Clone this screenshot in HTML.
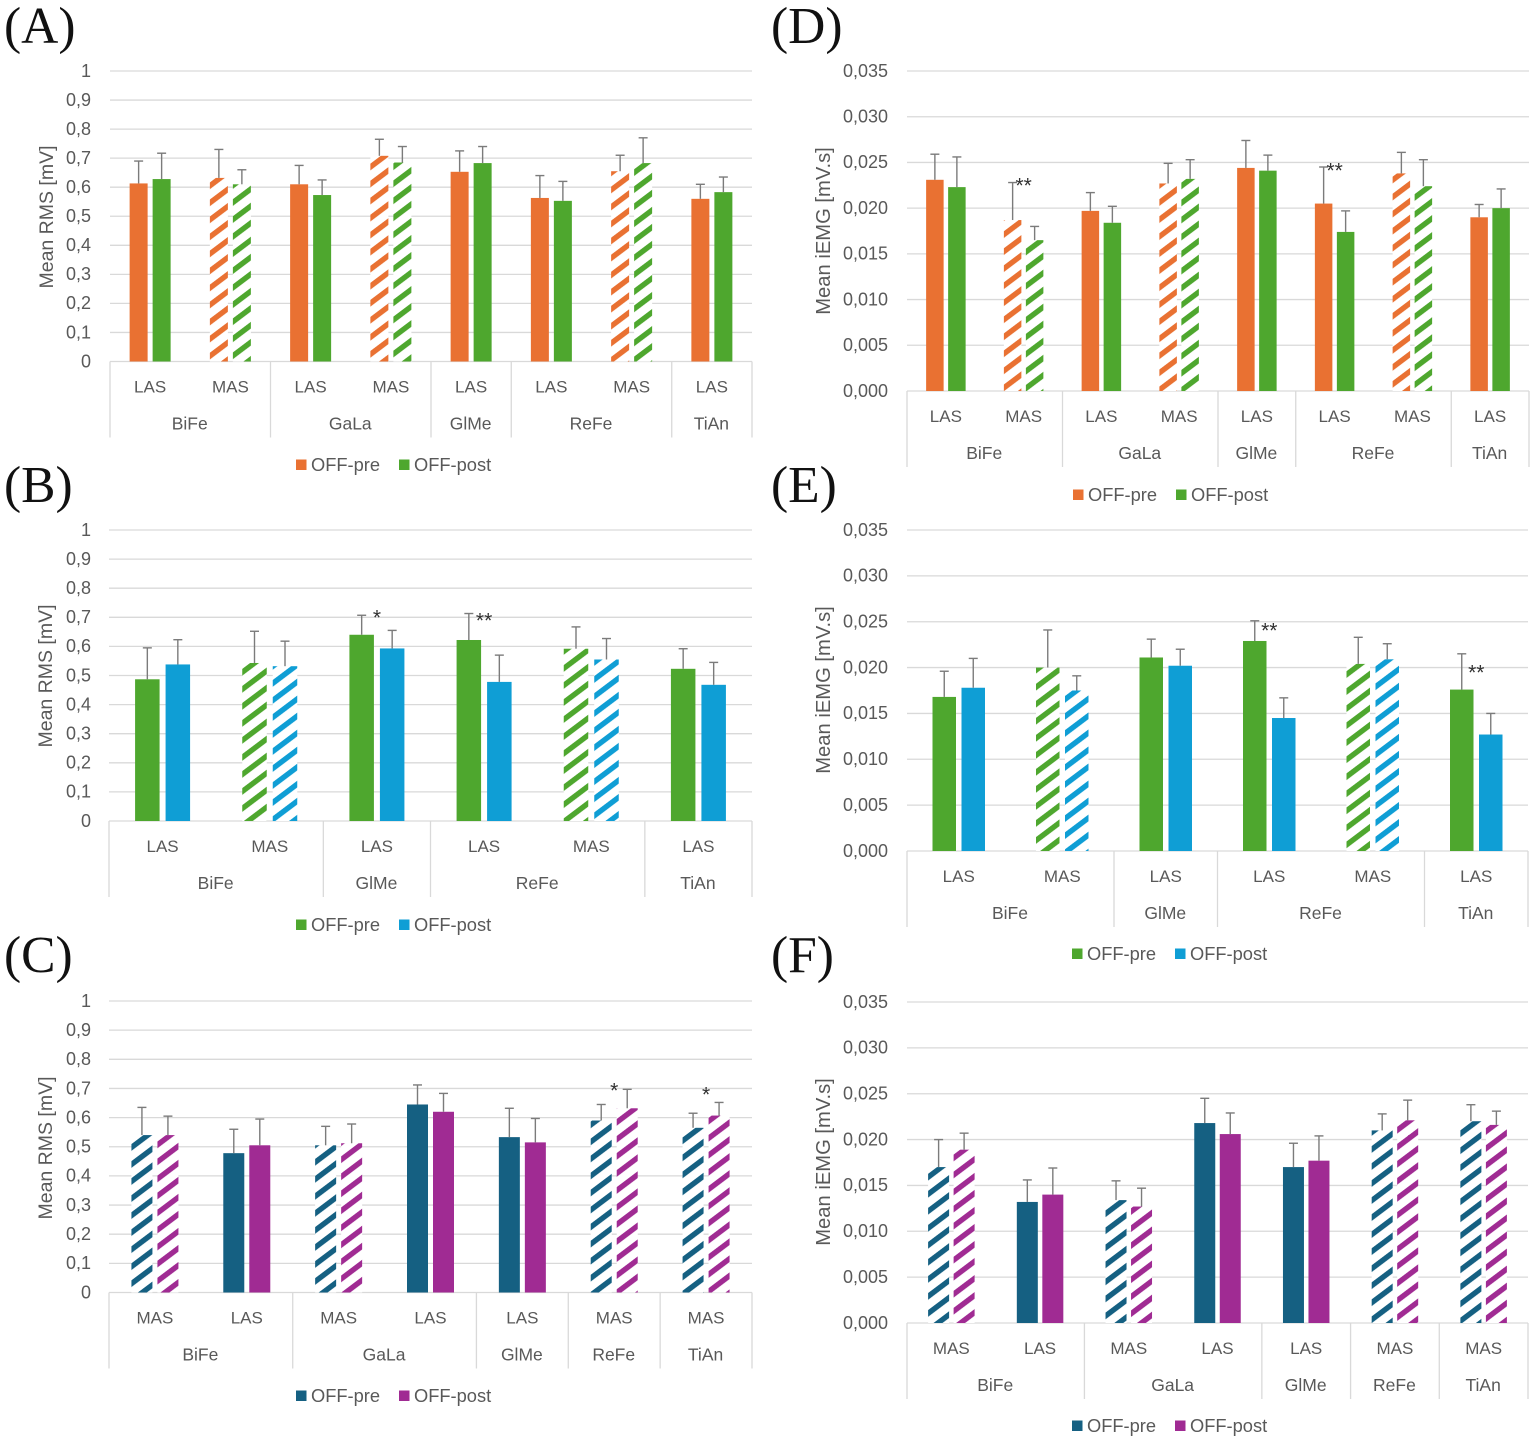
<!DOCTYPE html>
<html lang="en">
<head>
<meta charset="utf-8">
<title>Mean RMS and iEMG charts</title>
<style>
html,body{margin:0;padding:0;background:#fff;width:1535px;height:1441px;overflow:hidden}
svg{display:block}
text{font-family:"Liberation Sans",sans-serif;fill:#595959}
.panel-letter{font-family:"Liberation Serif",serif;fill:#111;font-size:51.5px}
</style>
</head>
<body>
<svg id="figure" xmlns="http://www.w3.org/2000/svg" width="1535" height="1441" viewBox="0 0 1535 1441">
<defs id="defs"></defs>
<rect width="1535" height="1441" fill="#fff"></rect>
</svg>
<script>
// Panel A
var aCategories = ['LAS','MAS','LAS','MAS','LAS','LAS','MAS','LAS'];
var aGroups = ['BiFe','GaLa','GlMe','ReFe','TiAn'];
var aGroupSizes = [2,2,1,2,1];
var aPre = [0.613,0.632,0.61,0.708,0.653,0.563,0.655,0.56];
var aPost = [0.628,0.61,0.573,0.685,0.683,0.553,0.683,0.583];
var aPreTop = [0.69,0.73,0.675,0.765,0.725,0.64,0.71,0.61];
var aPostTop = [0.717,0.66,0.625,0.74,0.74,0.62,0.77,0.635];
var aStarCats = [];
var aStarLevels = [];
var aStarLabels = [];
// Panel B
var bCategories = ['LAS','MAS','LAS','LAS','MAS','LAS'];
var bGroups = ['BiFe','GlMe','ReFe','TiAn'];
var bGroupSizes = [2,1,2,1];
var bPre = [0.487,0.543,0.64,0.622,0.592,0.523];
var bPost = [0.538,0.532,0.593,0.478,0.555,0.468];
var bPreTop = [0.595,0.652,0.707,0.713,0.667,0.592];
var bPostTop = [0.623,0.618,0.655,0.57,0.627,0.545];
var bStarCats = [2,3];
var bStarLevels = [0.711,0.70];
var bStarLabels = ['*','**'];
// Panel C
var cCategories = ['MAS','LAS','MAS','LAS','LAS','MAS','MAS'];
var cGroups = ['BiFe','GaLa','GlMe','ReFe','TiAn'];
var cGroupSizes = [2,2,1,1,1];
var cPre = [0.54,0.478,0.505,0.645,0.533,0.59,0.565];
var cPost = [0.54,0.505,0.512,0.62,0.515,0.632,0.607];
var cPreTop = [0.635,0.56,0.57,0.712,0.632,0.645,0.615];
var cPostTop = [0.605,0.595,0.578,0.683,0.597,0.697,0.652];
var cStarCats = [5,6];
var cStarLevels = [0.704,0.69];
var cStarLabels = ['*','*'];
// Panel D
var dCategories = ['LAS','MAS','LAS','MAS','LAS','LAS','MAS','LAS'];
var dGroups = ['BiFe','GaLa','GlMe','ReFe','TiAn'];
var dGroupSizes = [2,2,1,2,1];
var dPre = [0.0231,0.0187,0.0197,0.0227,0.0244,0.0205,0.0238,0.0190];
var dPost = [0.0223,0.0165,0.0184,0.0232,0.0241,0.0174,0.0224,0.0200];
var dPreTop = [0.0259,0.0228,0.0217,0.0249,0.0274,0.0245,0.0261,0.0204];
var dPostTop = [0.0256,0.0180,0.0202,0.0253,0.0258,0.0197,0.0253,0.0221];
var dStarCats = [1,5];
var dStarLevels = [0.02286,0.0245];
var dStarLabels = ['**','**'];
// Panel E
var eCategories = ['LAS','MAS','LAS','LAS','MAS','LAS'];
var eGroups = ['BiFe','GlMe','ReFe','TiAn'];
var eGroupSizes = [2,1,2,1];
var ePre = [0.0168,0.0200,0.0211,0.0229,0.0204,0.0176];
var ePost = [0.0178,0.0175,0.0202,0.0145,0.0209,0.0127];
var ePreTop = [0.0196,0.0241,0.0231,0.0251,0.0233,0.0215];
var ePostTop = [0.0210,0.0191,0.0220,0.0167,0.0226,0.0150];
var eStarCats = [3,5];
var eStarLevels = [0.02442,0.01984];
var eStarLabels = ['**','**'];
// Panel F
var fCategories = ['MAS','LAS','MAS','LAS','LAS','MAS','MAS'];
var fGroups = ['BiFe','GaLa','GlMe','ReFe','TiAn'];
var fGroupSizes = [2,2,1,1,1];
var fPre = [0.0170,0.0132,0.0134,0.0218,0.0170,0.0210,0.0220];
var fPost = [0.0189,0.0140,0.0127,0.0206,0.0177,0.0221,0.0216];
var fPreTop = [0.0200,0.0156,0.0155,0.0245,0.0196,0.0228,0.0238];
var fPostTop = [0.0207,0.0169,0.0147,0.0229,0.0204,0.0243,0.0231];
var fStarCats = [];
var fStarLevels = [];
var fStarLabels = [];
// Shared tick labels
var rmsTicks = ['0','0,1','0,2','0,3','0,4','0,5','0,6','0,7','0,8','0,9','1'];
var rmsTickValues = [0,0.1,0.2,0.3,0.4,0.5,0.6,0.7,0.8,0.9,1];
var iemgTicks = ['0,000','0,005','0,010','0,015','0,020','0,025','0,030','0,035'];
var iemgTickValues = [0,0.005,0.01,0.015,0.02,0.025,0.03,0.035];
var seriesNames = ['OFF-pre','OFF-post'];

var ORANGE='#E97132', GREEN='#4EA72E', BLUE='#0F9ED5', TEAL='#156082', PURPLE='#A02B93';
var svg=document.getElementById('figure');
var defs=document.getElementById('defs');
var NS='http://www.w3.org/2000/svg';

function make(tag,attrs,parent){
  var n=document.createElementNS(NS,tag);
  for(var k in attrs){n.setAttribute(k,attrs[k]);}
  (parent||svg).appendChild(n);
  return n;
}
function hatchPattern(color){
  var id='hatch-'+color.slice(1);
  if(document.getElementById(id)){return 'url(#'+id+')';}
  var p=make('pattern',{id:id,patternUnits:'userSpaceOnUse',width:30,height:13.6,patternTransform:'rotate(-37)'},defs);
  make('rect',{x:0,y:0,width:30,height:13.6,fill:'#fff'},p);
  make('rect',{x:0,y:0,width:30,height:5.4,fill:color},p);
  return 'url(#'+id+')';
}

function drawPanel(cfg){
  var g=make('g',{});
  
  

  var letter=make('text',{x:cfg.letterX,y:cfg.letterY,'class':'panel-letter'},g);
  letter.textContent='('+cfg.key.toUpperCase()+')';
  
  

  var n=cfg.categories.length;
  var step=(cfg.x1-cfg.x0)/n;
  function xCenter(i){return cfg.x0+(i+0.5)*step;}
  function yScale(v){return cfg.yBase-(v/cfg.yMax)*(cfg.yBase-cfg.yTop);}

  // gridlines and tick labels
  cfg.tickValues.forEach(function(v,i){
    var y=yScale(v);
    var line=make('line',{x1:cfg.x0,x2:cfg.x1,y1:y,y2:y,stroke:'#d9d9d9','stroke-width':1.3},g);
    
    
    var t=make('text',{x:cfg.tickX,y:y+5.8,'text-anchor':'end','font-size':18},g);
    t.textContent=cfg.ticks[i];
    
    
  });

  // y axis title
  var title=make('text',{x:0,y:0,'text-anchor':'middle','font-size':cfg.titleSize,transform:'translate('+(cfg.titleX+7)+','+cfg.titleY+') rotate(-90)'},g);
  title.textContent=cfg.title;
  
  

  // category labels
  cfg.categories.forEach(function(c,i){
    var t=make('text',{x:xCenter(i),y:cfg.yBase+30.8,'text-anchor':'middle','font-size':17},g);
    t.textContent=c;
    
    
  });

  // group separators and labels
  var start=0;
  function separator(pos){
    var s=make('line',{x1:pos,x2:pos,y1:cfg.yBase,y2:cfg.yBase+76,stroke:'#d9d9d9','stroke-width':1.3},g);
    
    
  }
  separator(cfg.x0);
  cfg.groups.forEach(function(name,i){
    var size=cfg.groupSizes[i];
    var mid=cfg.x0+(start+size/2)*step;
    var t=make('text',{x:mid-0.5,y:cfg.yBase+68,'text-anchor':'middle','font-size':17.5},g);
    t.textContent=name;
    
    
    start+=size;
    separator(cfg.x0+start*step);
  });

  // bars and error bars
  function drawSeries(values,tops,color,side,seriesLabel){
    values.forEach(function(v,i){
      var cx=xCenter(i)+side*(cfg.barW/2+cfg.gap/2);
      var hatched=cfg.categories[i]==='MAS';
      var top=yScale(v);
      var bar=make('rect',{x:cx-cfg.barW/2,y:top,width:cfg.barW,height:cfg.yBase-top,fill:hatched?hatchPattern(color):color},g);
      
      
      var yt=yScale(tops[i]);
      var stem=make('line',{x1:cx,x2:cx,y1:top,y2:yt,stroke:'#7b7b7b','stroke-width':1.4},g);
      
      
      var cap=make('line',{x1:cx-4.5,x2:cx+4.5,y1:yt,y2:yt,stroke:'#7b7b7b','stroke-width':1.4},g);
      
      
    });
  }
  drawSeries(cfg.pre,cfg.preTop,cfg.colors[0],-1,'off-pre');
  drawSeries(cfg.post,cfg.postTop,cfg.colors[1],1,'off-post');

  // significance stars
  cfg.starCats.forEach(function(c,i){
    var s=make('text',{x:xCenter(c),y:yScale(cfg.starLevels[i])+10.3,'text-anchor':'middle','font-size':21},g);
    s.textContent=cfg.starLabels[i];
    s.style.fill='#333';
    
    
  });

  // legend
  seriesNames.forEach(function(name,i){
    var sx=cfg.legendX+i*103;
    var sw=make('rect',{x:sx,y:cfg.legendY-5.5,width:10.5,height:10.5,fill:cfg.colors[i]},g);
    
    
    var t=make('text',{x:sx+15,y:cfg.legendY+5.8,'font-size':18.3},g);
    t.textContent=name;
    
    
  });
}

var RMS_TITLE='Mean RMS [mV]', IEMG_TITLE='Mean iEMG [mV.s]';

drawPanel({key:'a',categories:aCategories,groups:aGroups,groupSizes:aGroupSizes,pre:aPre,post:aPost,preTop:aPreTop,postTop:aPostTop,starCats:aStarCats,starLevels:aStarLevels,starLabels:aStarLabels,
  ticks:rmsTicks,tickValues:rmsTickValues,yMax:1,title:RMS_TITLE,titleSize:19.5,colors:[ORANGE,GREEN],
  x0:110,x1:752,yTop:71,yBase:361.5,barW:18,gap:5,tickX:91,titleX:46,titleY:217,legendX:296,legendY:465,letterX:4,letterY:43});
drawPanel({key:'b',categories:bCategories,groups:bGroups,groupSizes:bGroupSizes,pre:bPre,post:bPost,preTop:bPreTop,postTop:bPostTop,starCats:bStarCats,starLevels:bStarLevels,starLabels:bStarLabels,
  ticks:rmsTicks,tickValues:rmsTickValues,yMax:1,title:RMS_TITLE,titleSize:19.5,colors:[GREEN,BLUE],
  x0:109,x1:752,yTop:530,yBase:821,barW:24.5,gap:6,tickX:91,titleX:45,titleY:676,legendX:296,legendY:925,letterX:4,letterY:502});
drawPanel({key:'c',categories:cCategories,groups:cGroups,groupSizes:cGroupSizes,pre:cPre,post:cPost,preTop:cPreTop,postTop:cPostTop,starCats:cStarCats,starLevels:cStarLevels,starLabels:cStarLabels,
  ticks:rmsTicks,tickValues:rmsTickValues,yMax:1,title:RMS_TITLE,titleSize:19.5,colors:[TEAL,PURPLE],
  x0:109,x1:752,yTop:1001,yBase:1292.5,barW:21,gap:5,tickX:91,titleX:45,titleY:1148,legendX:296,legendY:1396,letterX:4,letterY:972});
drawPanel({key:'d',categories:dCategories,groups:dGroups,groupSizes:dGroupSizes,pre:dPre,post:dPost,preTop:dPreTop,postTop:dPostTop,starCats:dStarCats,starLevels:dStarLevels,starLabels:dStarLabels,
  ticks:iemgTicks,tickValues:iemgTickValues,yMax:0.035,title:IEMG_TITLE,titleSize:20.2,colors:[ORANGE,GREEN],
  x0:907,x1:1529,yTop:71,yBase:391,barW:17.5,gap:4.5,tickX:888,titleX:823,titleY:231,legendX:1073,legendY:495,letterX:771,letterY:43});
drawPanel({key:'e',categories:eCategories,groups:eGroups,groupSizes:eGroupSizes,pre:ePre,post:ePost,preTop:ePreTop,postTop:ePostTop,starCats:eStarCats,starLevels:eStarLevels,starLabels:eStarLabels,
  ticks:iemgTicks,tickValues:iemgTickValues,yMax:0.035,title:IEMG_TITLE,titleSize:20.2,colors:[GREEN,BLUE],
  x0:907,x1:1528,yTop:530,yBase:851,barW:23.5,gap:5.5,tickX:888,titleX:823,titleY:690,legendX:1072,legendY:954,letterX:771,letterY:502});
drawPanel({key:'f',categories:fCategories,groups:fGroups,groupSizes:fGroupSizes,pre:fPre,post:fPost,preTop:fPreTop,postTop:fPostTop,starCats:fStarCats,starLevels:fStarLevels,starLabels:fStarLabels,
  ticks:iemgTicks,tickValues:iemgTickValues,yMax:0.035,title:IEMG_TITLE,titleSize:20.2,colors:[TEAL,PURPLE],
  x0:907,x1:1528,yTop:1002,yBase:1323,barW:21,gap:4.5,tickX:888,titleX:823,titleY:1162,legendX:1072,legendY:1426,letterX:771,letterY:972});
</script>
</body>
</html>
